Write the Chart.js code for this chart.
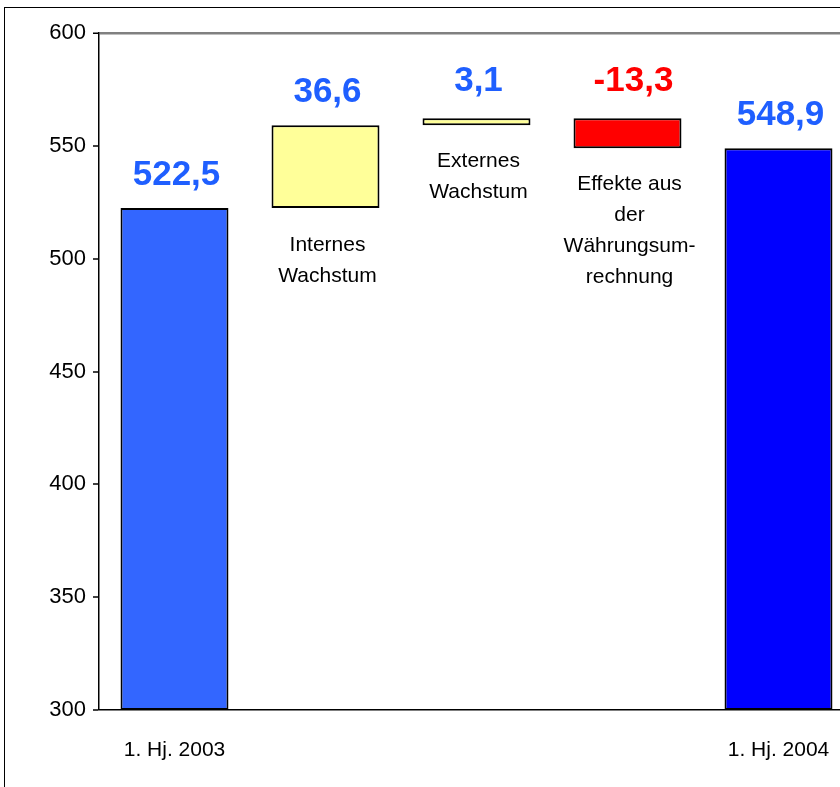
<!DOCTYPE html>
<html>
<head>
<meta charset="utf-8">
<script src="https://cdn.jsdelivr.net/npm/chart.js@4"></script>
<style>
html,body{margin:0;padding:0;overflow:hidden;background:#fff;width:840px;height:787px}
#frame{position:absolute;left:4px;top:7px;width:900px;height:900px;border-left:1px solid #000;border-top:1px solid #000}
#c{position:absolute;left:0;top:0}
</style>
</head>
<body>
<div id="frame"></div>
<canvas id="c" width="860" height="787"></canvas>
<script>
'use strict'
// Umsatzbrücke 1. Hj. 2003 -> 1. Hj. 2004
let categories=['1. Hj. 2003','Internes Wachstum','Externes Wachstum','Währung','1. Hj. 2004']
let values=[522.5,36.6,3.1,-13.3,548.9]
let isTotal=[true,false,false,false,true]
let axisLabels=['1. Hj. 2003','','','','1. Hj. 2004']
let barText=[[],['Internes','Wachstum'],['Externes','Wachstum'],['Effekte aus','der','Währungsum-','rechnung'],[]]
let yTicks={min:300,max:600,step:50}

let barColors=['#3366FF','#FFFF99','#FFFF99','#FF0000','#0000FF']
let labelColors=['#1F5FFF','#1F5FFF','#1F5FFF','#FF0000','#1F5FFF']

// floating ranges
let ranges=[]
let running=0
for(let i=0;i<values.length;i++){
  if(isTotal[i]){
    running=values[i]
    ranges.push([yTicks.min,values[i]])
  }else{
    ranges.push([running,running+values[i]])
    running=running+values[i]
  }
}

const FONT='"Liberation Sans", Arial, sans-serif'

let labelPlugin={
  id:'labels',
  afterDatasetsDraw(chart){
    let ctx=chart.ctx
    let meta=chart.getDatasetMeta(0)
    ctx.save()
    ctx.textAlign='center'
    meta.data.forEach((bar,i)=>{
      let top=Math.min(bar.y,bar.base)
      let bottom=Math.max(bar.y,bar.base)
      ctx.font='bold 35px '+FONT
      ctx.fillStyle=labelColors[i]
      ctx.textBaseline='alphabetic'
      let txt=values[i].toFixed(1).replace('.',',')
      let gap=(bottom-top)<40?27:23
      ctx.fillText(txt,bar.x+(values[i]<0?6:2),top-gap)
      ctx.font='21px '+FONT
      ctx.fillStyle='#000'
      ctx.textBaseline='middle'
      let first=(bottom-top)<40?36:37
      barText[i].forEach((line,k)=>{
        ctx.fillText(line,bar.x+2,bottom+first+k*31)
      })
    })
    ctx.restore()
  }
}

new Chart(document.getElementById('c').getContext('2d'),{
  type:'bar',
  data:{
    labels:axisLabels,
    datasets:[{
      data:ranges,
      backgroundColor:barColors,
      borderColor:'#000',
      borderWidth:2,
      borderSkipped:false,
      barPercentage:0.715,
      categoryPercentage:1
    }]
  },
  options:{
    responsive:false,
    animation:false,
    devicePixelRatio:1,
    layout:{padding:{top:33,right:6,left:0,bottom:0}},
    plugins:{legend:{display:false},tooltip:{enabled:false}},
    scales:{
      x:{
        grid:{display:true,drawOnChartArea:false,drawTicks:false},
        border:{color:'#000',width:1.5},
        ticks:{color:'#000',font:{family:FONT,size:21},padding:28,maxRotation:0,autoSkip:false},
        afterFit(s){s.height=77}
      },
      y:{
        min:yTicks.min,max:yTicks.max,
        ticks:{stepSize:yTicks.step,color:'#000',font:{family:FONT,size:22},padding:7},
        grid:{
          color:c=>c.tick&&c.tick.value===yTicks.max?'#808080':'rgba(0,0,0,0)',
          lineWidth:c=>c.tick&&c.tick.value===yTicks.max?2.5:0,
          tickColor:'#000',tickLength:6,tickWidth:1.5
        },
        border:{color:'#000',width:1.5},
        afterFit(s){s.width=99}
      }
    }
  },
  plugins:[labelPlugin]
})
</script>
</body>
</html>
